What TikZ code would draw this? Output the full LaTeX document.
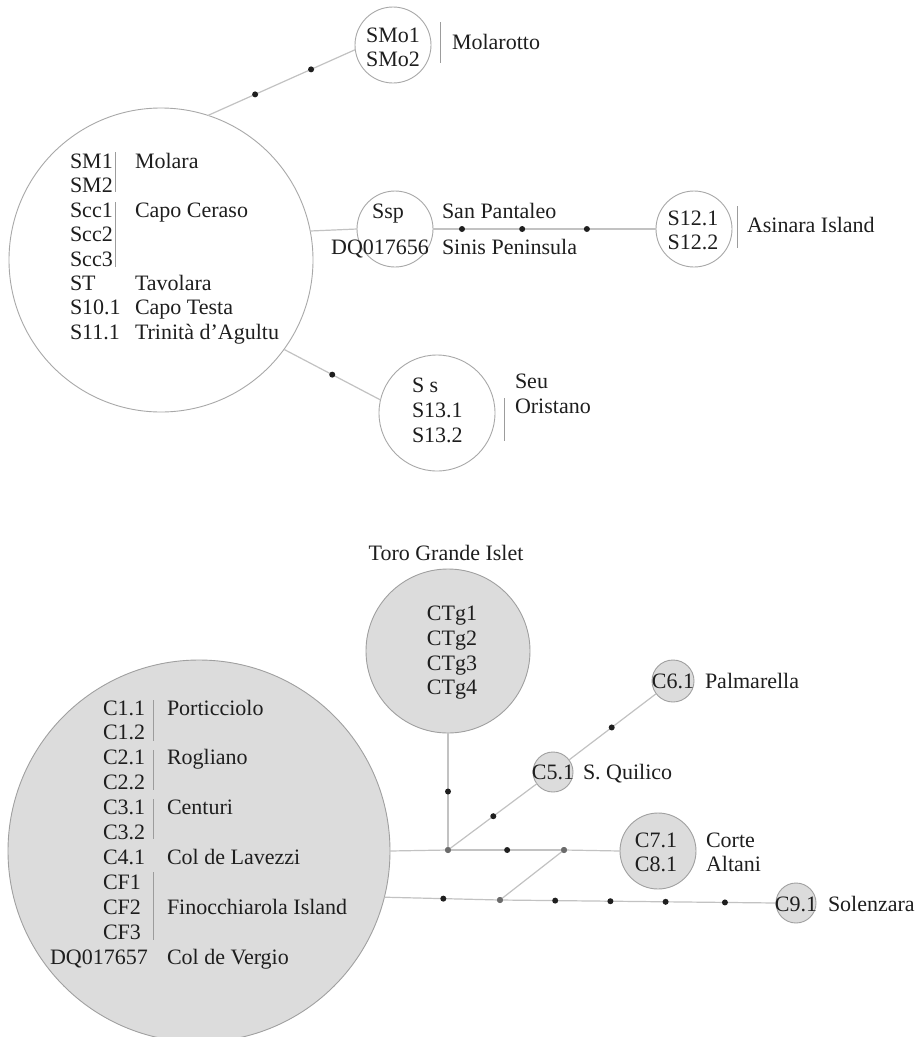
\documentclass[tikz,border=0pt]{standalone}
\usepackage{fontspec}
\setmainfont{Liberation Serif}
\definecolor{txt}{HTML}{1E1E1E}
\definecolor{cw}{HTML}{A8A8A8}
\definecolor{cf}{HTML}{DCDCDC}
\definecolor{cb}{HTML}{A0A0A0}
\definecolor{lnc}{HTML}{C2C2C2}
\definecolor{barc}{HTML}{9C9C9C}
\begin{document}
\begin{tikzpicture}[x=1pt,y=-1pt,
  every node/.style={inner sep=0pt, outer sep=0pt, text=txt, font=\fontsize{22}{24}\selectfont},
  lw/.style={anchor=base west},
  lcen/.style={anchor=base},
  least/.style={anchor=base east},
  wcirc/.style={circle, draw=cw, line width=0.9pt, fill=white, minimum size=#1},
  gcirc/.style={circle, draw=cb, line width=0.9pt, fill=cf, minimum size=#1},
  conn/.style={draw=lnc, line width=1.2pt},
  bardiv/.style={draw=barc, line width=0.9pt},
  dotb/.style={circle, fill=black!88, minimum size=6pt},
  junc/.style={circle, fill=black!58, minimum size=6pt}
]
\fill[white] (0,0) rectangle (921,1037);
\useasboundingbox (0,0) rectangle (921,1037);

% ---------------- top network ----------------
\node[wcirc=304pt] (big) at (161,260) {};
\node[wcirc=76pt] (smo) at (393,45) {};
\node[wcirc=76pt] (ssp) at (395,229) {};
\node[wcirc=76pt] (s12) at (694,229) {};
\node[wcirc=116pt] (seu) at (437,413) {};

\draw[conn] (big.72.6) -- node[dotb,pos=0.32] (d1) {} node[dotb,pos=0.70] (d2) {} (smo.187.5);
\draw[conn] (big.11.8) -- (ssp.180);
\draw[conn] (ssp.0) -- node[dotb,pos=0.13] (d3) {} node[dotb,pos=0.40] (d4) {} node[dotb,pos=0.69] (d5) {} (s12.180);
\draw[conn] (big.-36) -- node[dotb,pos=0.5] (d6) {} (seu.167.4);

% big circle text
\node[lw] (tsm1) at (70,168.5) {SM1};
\node[lw] (tsm2) at (70,192.9) {SM2};
\node[lw] (tscc1) at (70,217.3) {Scc1};
\node[lw] (tscc2) at (70,241.7) {Scc2};
\node[lw] (tscc3) at (70,266.1) {Scc3};
\node[lw] (tst) at (70,290.5) {ST};
\node[lw] (ts10) at (70,314.9) {S10.1};
\node[lw] (ts11) at (70,339.3) {S11.1};
\node[lw] (tmolara) at (135,168.5) {Molara};
\node[lw] (tcapoc) at (135,217.3) {Capo Ceraso};
\node[lw] (ttav) at (135,290.5) {Tavolara};
\node[lw] (tcapot) at (135,314.9) {Capo Testa};
\node[lw] (ttrin) at (135,339.3) {Trinità d’Agultu};
\draw[bardiv] (115,152) -- (115,192);
\draw[bardiv] (115,202) -- (115,267);

% Molarotto
\node[lcen] (tsmo1) at (393,42.5) {SMo1};
\node[lcen] (tsmo2) at (393,66.5) {SMo2};
\draw[bardiv] (440,22) -- (440,63);
\node[lw] (tmolarotto) at (452,49) {Molarotto};

% San Pantaleo / Sinis
\node[lcen] (tssp) at (388,218) {Ssp};
\node[least] (tdq1) at (429,254) {DQ017656};
\node[lw] (tsanp) at (442,218) {San Pantaleo};
\node[lw] (tsinis) at (442,254) {Sinis Peninsula};

% Asinara
\node[lcen] (ts121) at (693,225) {S12.1};
\node[lcen] (ts122) at (693,249) {S12.2};
\draw[bardiv] (737,206) -- (737,248);
\node[lw] (tasin) at (747,232) {Asinara Island};

% Seu / Oristano
\node[lw] (tss) at (412,392) {S s};
\node[lw] (ts131) at (412,417) {S13.1};
\node[lw] (ts132) at (412,442) {S13.2};
\draw[bardiv] (504,398) -- (504,441);
\node[lw] (tseu) at (515,388) {Seu};
\node[lw] (torist) at (515,413) {Oristano};

% ---------------- bottom network ----------------
\node[gcirc=382pt] (bigc) at (199,851) {};
\node[gcirc=164pt] (ctg) at (448,651) {};
\node[gcirc=40pt] (c5) at (553,772) {};
\node[gcirc=42pt] (c6) at (673,681) {};
\node[gcirc=76pt] (c7) at (658,851) {};
\node[gcirc=40pt] (c9) at (796,903) {};

\node[junc] (j1) at (448,850) {};
\node[junc] (j2) at (564,850) {};
\node[junc] (j3) at (500,900) {};

\draw[conn] (ctg.south) -- node[dotb,pos=0.5] (d7) {} (j1.center);
\draw[conn] (bigc.0) -- (j1.center);
\draw[conn] (j1.center) -- node[dotb,pos=0.51] (d8) {} (j2.center);
\draw[conn] (j2.center) -- (c7.180);
\draw[conn] (j1.center) -- node[dotb,pos=0.51] (d9) {} (c5.216.6);
\draw[conn] (c5.37.2) -- node[dotb,pos=0.49] (d10) {} (c6.217.2);
\draw[conn] (bigc.-14.9) -- node[dotb,pos=0.51] (d11) {} (j3.center);
\draw[conn] (j3.center) -- node[dotb,pos=0.2] (d12) {} node[dotb,pos=0.40] (d13) {} node[dotb,pos=0.60] (d14) {} node[dotb,pos=0.815] (d15) {} (c9.180);
\draw[conn] (j3.center) -- (j2.center);
\node[junc] at (j1) {};
\node[junc] at (j2) {};
\node[junc] at (j3) {};

% big circle text
\node[lw] (tc11) at (103,715) {C1.1};
\node[lw] (tc12) at (103,739.9) {C1.2};
\node[lw] (tc21) at (103,764.8) {C2.1};
\node[lw] (tc22) at (103,789.7) {C2.2};
\node[lw] (tc31) at (103,814.6) {C3.1};
\node[lw] (tc32) at (103,839.5) {C3.2};
\node[lw] (tc41) at (103,864.4) {C4.1};
\node[lw] (tcf1) at (103,889.3) {CF1};
\node[lw] (tcf2) at (103,914.2) {CF2};
\node[lw] (tcf3) at (103,939.1) {CF3};
\node[lw] (tdq2) at (50,964) {DQ017657};
\node[lw] (tport) at (167,715) {Porticciolo};
\node[lw] (trog) at (167,764.8) {Rogliano};
\node[lw] (tcent) at (167,814.6) {Centuri};
\node[lw] (tlav) at (167,864.4) {Col de Lavezzi};
\node[lw] (tfin) at (167,914.2) {Finocchiarola Island};
\node[lw] (tverg) at (167,964) {Col de Vergio};
\draw[bardiv] (153,700) -- (153,741);
\draw[bardiv] (153,750) -- (153,790);
\draw[bardiv] (153,799) -- (153,839);
\draw[bardiv] (153,872) -- (153,940);

% Toro Grande
\node[lcen] (ttoro) at (446,560) {Toro Grande Islet};
\node[lcen] (tctg1) at (452,620.7) {CTg1};
\node[lcen] (tctg2) at (452,645.4) {CTg2};
\node[lcen] (tctg3) at (452,670.1) {CTg3};
\node[lcen] (tctg4) at (452,694.8) {CTg4};

% small haplotypes
\node[lcen] (tc51) at (553,779) {C5.1};
\node[lw] (tquil) at (583,779) {S. Quilico};
\node[lcen] (tc61) at (673,688) {C6.1};
\node[lw] (tpalm) at (705,688) {Palmarella};
\node[lcen] (tc71) at (656,847) {C7.1};
\node[lcen] (tc81) at (656,871) {C8.1};
\node[lw] (tcorte) at (706,847) {Corte};
\node[lw] (talt) at (706,871) {Altani};
\node[lcen] (tc91) at (796,911) {C9.1};
\node[lw] (tsol) at (828,911) {Solenzara};
\end{tikzpicture}
\end{document}
